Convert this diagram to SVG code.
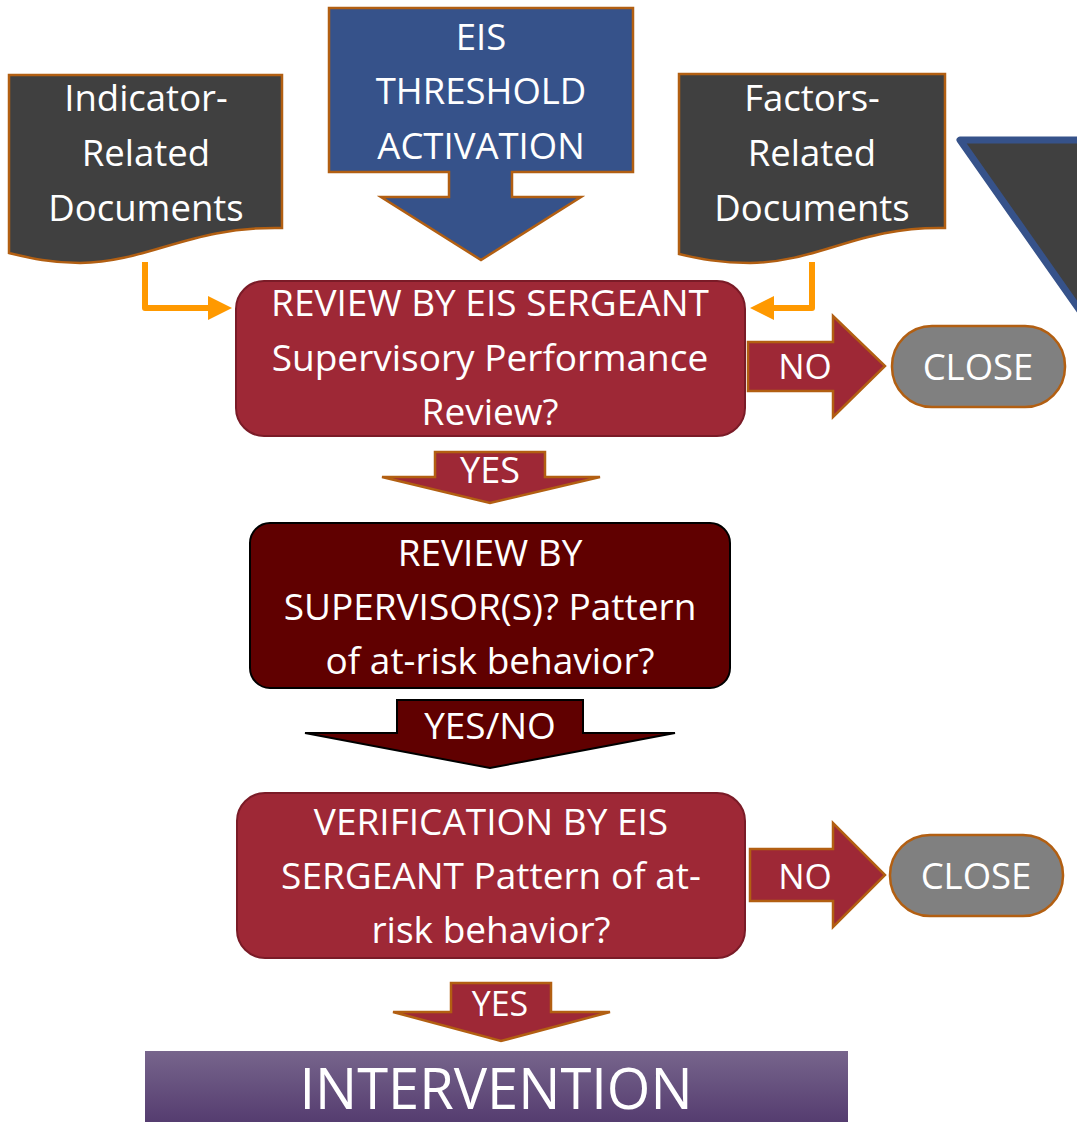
<svg xmlns="http://www.w3.org/2000/svg" width="1077" height="1122" viewBox="0 0 1077 1122">
<defs>
<style>
.t{font-family:"Open Sans","DejaVu Sans",sans-serif;fill:#fff;text-anchor:middle}
.b{font-size:37px}
.doc{fill:#404040;stroke:#b25f12;stroke-width:2.5}
.red{fill:#9e2836;stroke:#b25f12;stroke-width:2.5;stroke-linejoin:miter}
.box{fill:#9e2836;stroke:#7a1b27;stroke-width:2}
.close{fill:#808080;stroke:#b25f12;stroke-width:2.5}
.con{fill:none;stroke:#ff9900;stroke-width:6;stroke-linejoin:round}
</style>
<linearGradient id="ig" x1="0" y1="0" x2="0" y2="1">
<stop offset="0" stop-color="#77658c"/>
<stop offset="1" stop-color="#533a6e"/>
</linearGradient>
</defs>
<rect width="1077" height="1122" fill="#fff"/>

<g id="triangle">
<polygon points="960,140 1090,140 1090,325" fill="#404040" stroke="#36528a" stroke-width="7" stroke-linejoin="round"/>
</g>

<g id="indicator-docs">
<path class="doc" d="M9,75 H282 V228 C190,226 150,262 80,263 C50,263 30,258 9,253 Z"/>
<text class="t" font-size="36.5" x="146" y="111">Indicator-</text>
<text class="t" font-size="36.5" x="146" y="166">Related</text>
<text class="t" font-size="36.5" x="146" y="221">Documents</text>
</g>

<g id="eis-threshold">
<path d="M329,8 H633 V172 H512 V197 H581 L481,260 L381,197 H449 V172 H329 Z" fill="#36528a" stroke="#b25f12" stroke-width="2.5"/>
<text class="t" font-size="36.5" x="481" y="50">EIS</text>
<text class="t" font-size="36.5" x="481" y="104">THRESHOLD</text>
<text class="t" font-size="36.5" x="481" y="159">ACTIVATION</text>
</g>

<g id="factors-docs">
<path class="doc" d="M679,74 H945 V228 C860,226 820,262 750,263 C720,263 700,259 679,254 Z"/>
<text class="t" font-size="36.5" x="812" y="111">Factors-</text>
<text class="t" font-size="36.5" x="812" y="166">Related</text>
<text class="t" font-size="36.5" x="812" y="221">Documents</text>
</g>

<g id="connectors">
<path class="con" d="M145,262 V308 H212"/>
<polygon points="208,296 232,308 208,320" fill="#ff9900"/>
<path class="con" d="M812,262 V308 H770"/>
<polygon points="774,296 750,308 774,320" fill="#ff9900"/>
</g>

<g id="review-sergeant">
<rect class="box" x="236" y="281" width="509" height="155" rx="28"/>
<text class="t b" x="490" y="316">REVIEW BY EIS SERGEANT</text>
<text class="t b" x="490" y="371">Supervisory Performance</text>
<text class="t b" x="490" y="425">Review?</text>
</g>

<g id="no-arrow-1">
<path class="red" d="M748,342 H833 V316 L885,366 L833,417 V391 H748 Z"/>
<text class="t" font-size="35" x="805" y="379">NO</text>
</g>

<g id="close-1">
<rect class="close" x="892" y="326" width="173" height="81" rx="40"/>
<text class="t" font-size="36.5" x="978" y="380">CLOSE</text>
</g>

<g id="yes-arrow-1">
<path class="red" d="M435,452 H545 V477 H600 L490,503 L382,477 H435 Z"/>
<text class="t" font-size="36" x="490" y="483">YES</text>
</g>

<g id="review-supervisor">
<rect x="250" y="523" width="480" height="165" rx="20" fill="#600000" stroke="#000" stroke-width="2"/>
<text class="t b" x="490" y="566">REVIEW BY</text>
<text class="t b" x="490" y="620">SUPERVISOR(S)? Pattern</text>
<text class="t b" x="490" y="674">of at-risk behavior?</text>
</g>

<g id="yesno-arrow">
<path d="M397,700 H583 V733 H675 L490,768 L305,733 H397 Z" fill="#600000" stroke="#000" stroke-width="2"/>
<text class="t b" x="490" y="739">YES/NO</text>
</g>

<g id="verification">
<rect class="box" x="237" y="793" width="508" height="165" rx="28"/>
<text class="t b" x="491" y="835">VERIFICATION BY EIS</text>
<text class="t b" x="491" y="889">SERGEANT Pattern of at-</text>
<text class="t b" x="491" y="943">risk behavior?</text>
</g>

<g id="no-arrow-2">
<path class="red" d="M750,849 H833 V823 L885,875 L833,927 V901 H750 Z"/>
<text class="t" font-size="35" x="805" y="889">NO</text>
</g>

<g id="close-2">
<rect class="close" x="890" y="835" width="173" height="81" rx="40"/>
<text class="t" font-size="36.5" x="976" y="889">CLOSE</text>
</g>

<g id="yes-arrow-2">
<path class="red" d="M451,983 H551 V1012 H610 L501,1041 L393,1012 H451 Z"/>
<text class="t" font-size="34" x="500" y="1016">YES</text>
</g>

<g id="intervention">
<rect x="145" y="1051" width="703" height="75" fill="url(#ig)"/>
<text class="t" font-size="56" x="496" y="1109">INTERVENTION</text>
</g>
</svg>
